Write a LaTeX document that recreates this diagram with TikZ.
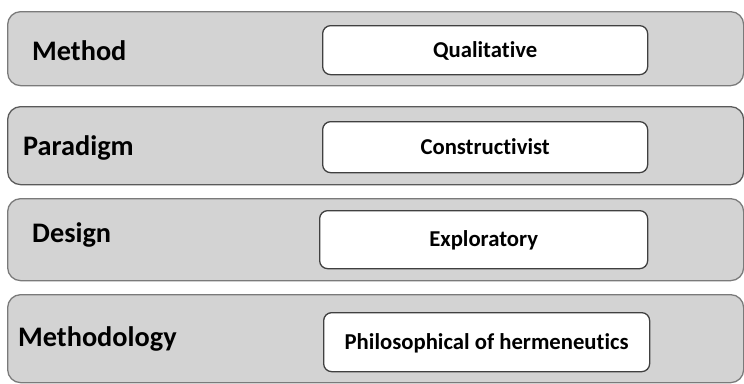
\documentclass[tikz,border=0pt]{standalone}
\usepackage{fontspec}
\setmainfont[RawFeature={-liga}]{Carlito}
\definecolor{bandfill}{HTML}{D3D3D3}
\definecolor{bandline}{HTML}{7A7A7A}
\definecolor{bandlinedark}{HTML}{5A5A5A}
\definecolor{boxline}{HTML}{404040}
\begin{document}
\begin{tikzpicture}[x=1pt,y=-1pt,
  band/.style={draw=bandline, fill=bandfill, line width=1.3pt, rounded corners=13pt,
    rectangle, anchor=north west, inner sep=0pt},
  valbox/.style={draw=boxline, fill=white, line width=1.3pt, rounded corners=8pt,
    rectangle, anchor=north west, inner sep=0pt, font=\fontsize{22.7}{24}\selectfont\bfseries,
    text height=14.6pt, text depth=0pt},
  lbl/.style={anchor=base west, inner sep=0pt, font=\fontsize{28.3}{30}\selectfont\bfseries}]
\useasboundingbox (0,0) rectangle (744,383);
% bands
\node[band, minimum width=736pt, minimum height=74pt] (b1) at (7,11) {};
\node[band, draw=bandlinedark, minimum width=736pt, minimum height=78pt] (b2) at (7,106) {};
\node[band, minimum width=736pt, minimum height=82pt] (b3) at (7,198) {};
\node[band, minimum width=736pt, minimum height=88pt] (b4) at (7,294) {};
% labels
\node[lbl] (l1) at (32,60) {Method};
\node[lbl] (l2) at (23,155) {Paradigm};
\node[lbl] (l3) at (32,242) {Design};
\node[lbl] (l4) at (18,346) {Methodology};
% value boxes
\node[valbox, minimum width=325pt, minimum height=49pt] (v1) at (322,25) {Qualitative};
\node[valbox, minimum width=325pt, minimum height=51pt] (v2) at (322,121) {Constructivist};
\node[valbox, minimum width=328pt, minimum height=58pt] (v3) at (319,210) {Exploratory};
\node[valbox, minimum width=326pt, minimum height=59pt] (v4) at (323,312) {Philosophical of hermeneutics};
\end{tikzpicture}
\end{document}
